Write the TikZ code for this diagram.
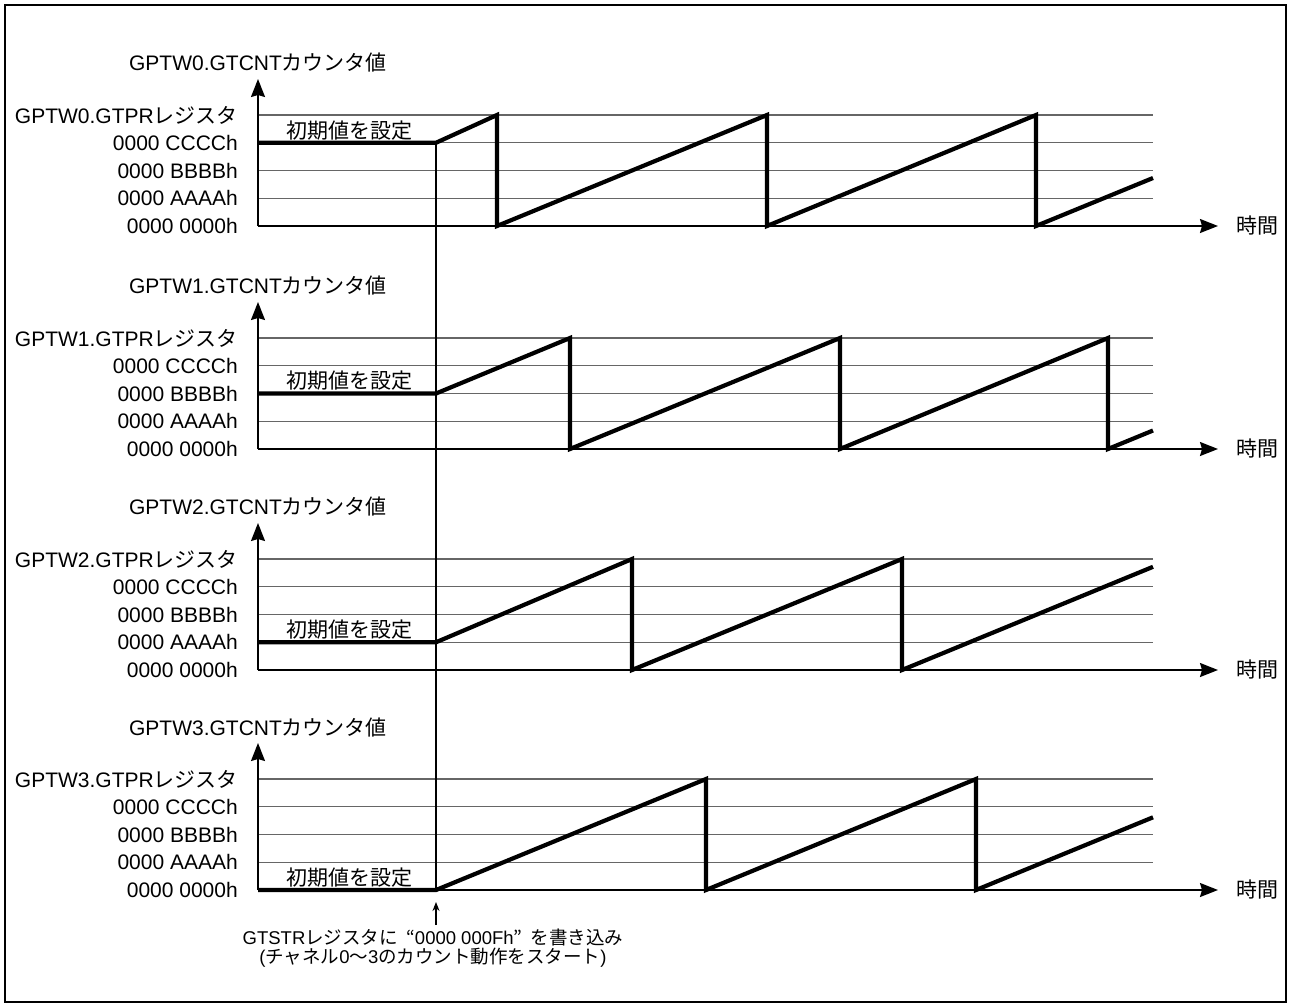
\documentclass[tikz,border=0pt]{standalone}
\usepackage{fontspec}
\setmainfont{Liberation Sans}
\newfontfamily\jp{Noto Sans CJK JP}
\usetikzlibrary{arrows.meta}
\begin{document}
\begin{tikzpicture}[x=1pt,y=-1pt,
  gridline/.style={black!60, line width=1.1pt},
  axisline/.style={black, line width=1.6pt},
  sawline/.style={black, line width=4.2pt, line join=miter, line cap=butt},
  syncline/.style={black, line width=1.6pt},
  lab/.style={anchor=east, inner sep=0pt, font=\fontsize{21}{25}\selectfont},
  ttl/.style={inner sep=0pt, font=\fontsize{21}{25}\selectfont},
  init/.style={inner sep=0pt, anchor=south, font=\fontsize{21}{25}\selectfont\jp},
  note/.style={inner sep=0pt, align=center, font=\fontsize{18.5}{19}\selectfont},
  tip/.style={-{Stealth[length=18pt,width=14pt,inset=2pt]}}]
\useasboundingbox (0,0) rectangle (1291,1007);
\draw[line width=2.4pt] (5,5) rectangle (1286,1002);

\foreach \p/\ya in {0/226,1/449,2/670,3/890} {
  % grid lines
  \foreach \k in {1,2,3,4} {
    \pgfmathsetmacro{\yy}{\ya-\k*27.75}
    \draw[gridline] (258,\yy) -- (1153,\yy);
  }
  % labels
  \node[lab] (z\p) at (238,\ya) {0000 0000h};
  \node[lab] (a\p) at (238,\ya-27.75) {0000 AAAAh};
  \node[lab] (b\p) at (238,\ya-55.5) {0000 BBBBh};
  \node[lab] (c\p) at (238,\ya-83.25) {0000 CCCCh};
  \node[lab] (r\p) at (238,\ya-111) {GPTW\p.GTPR{\jp レジスタ}};
  \node[ttl] (t\p) at (258,\ya-163) {GPTW\p.GTCNT{\jp カウンタ値}};
  \node[ttl] (h\p) at (1257,\ya) {\jp 時間};
  % axes
  \coordinate (o\p) at (258,\ya);
  \coordinate (yt\p) at (258,\ya-147);
  \coordinate (xt\p) at (1218,\ya);
  \draw[axisline,tip] (o\p) -- (yt\p);
  \draw[axisline,tip] (o\p) -- (xt\p);
}

% sawtooth waveforms
\draw[sawline] (258,142.75) -- (436,142.75) -- (497,115) -- (497,226) -- (767,115) -- (767,226) -- (1036,115) -- (1036,226) -- (1153,178);
\draw[sawline] (258,393.5) -- (436,393.5) -- (570,338) -- (570,449) -- (840,338) -- (840,449) -- (1108,338) -- (1108,449) -- (1153,430.5);
\draw[sawline] (258,642.25) -- (436,642.25) -- (632,559) -- (632,670) -- (902,559) -- (902,670) -- (1153,566.8);
\draw[sawline] (258,890) -- (436,890) -- (706,779) -- (706,890) -- (976,779) -- (976,890) -- (1153,817.3);

% initial value labels
\node[init] (i0) at (349,140) {初期値を設定};
\node[init] (i1) at (349,390.5) {初期値を設定};
\node[init] (i2) at (349,639.5) {初期値を設定};
\node[init] (i3) at (349,887) {初期値を設定};

% sync line
\coordinate (s0) at (436,142.75);
\coordinate (s3) at (436,890);
\draw[syncline] (s0) -- (s3);

% start note
\node[note] (nt) at (433,948) {GTSTR{\jp レジスタに}\hspace{0.45em}{\jp “}0000 000Fh{\jp ”}\hspace{0.45em}{\jp を書き込み}\\({\jp チャネル}0{\jp 〜}3{\jp のカウント動作をスタート})};
\coordinate (ab) at (436,925);
\coordinate (at) at (436,902);
\draw[black, line width=1.2pt, -{Stealth[length=9pt,width=7pt]}] (ab) -- (at);
\end{tikzpicture}
\end{document}
